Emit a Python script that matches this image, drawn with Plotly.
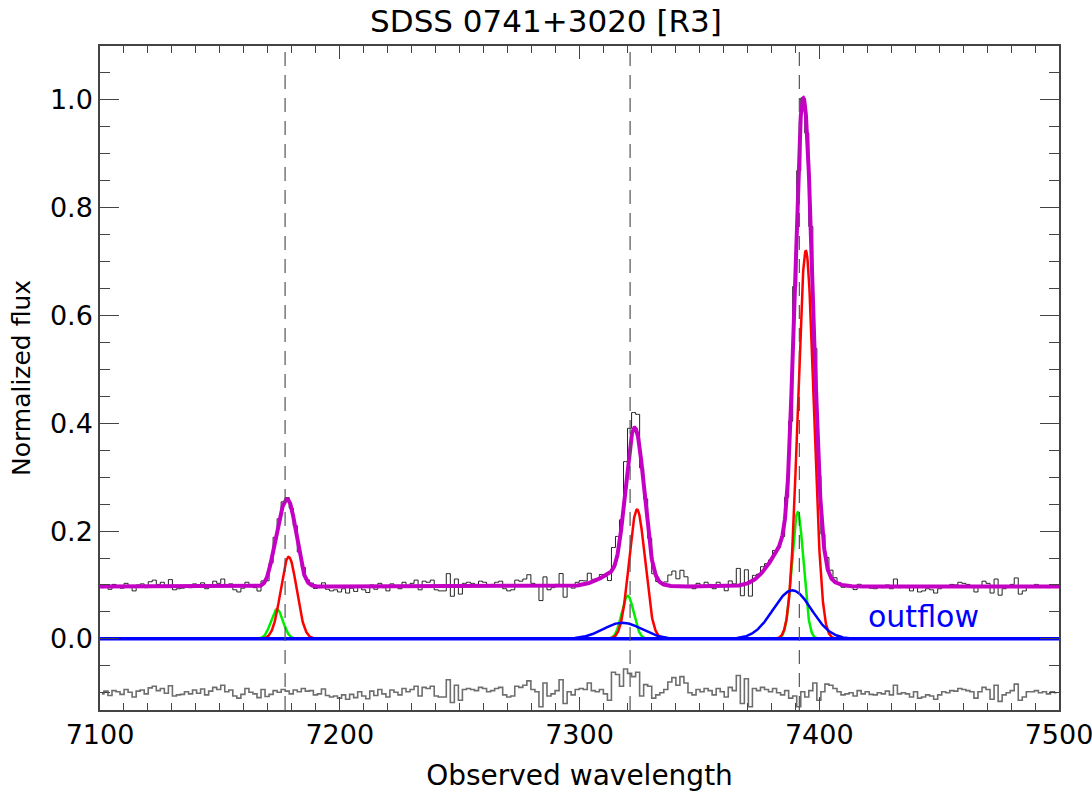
import numpy as np
import plotly.graph_objects as go

# ---------------- data ----------------
title = "SDSS 0741+3020 [R3]"
x_ticks = [7100, 7200, 7300, 7400, 7500]
y_ticks = [0.0, 0.2, 0.4, 0.6, 0.8, 1.0]

# rest-frame line positions shown as dashed lines (observed Angstrom)
line_positions = [7177.2, 7321.1, 7391.7]

continuum = 0.097

# narrow (red) components: centre, amplitude, sigma
red_centres = [7178.7, 7324.0, 7394.4]
red_amps = [0.152, 0.24, 0.72]
red_sigma = [3.3, 3.3, 3.3]

# intermediate (green) components
green_centres = [7173.8, 7320.1, 7391.0]
green_amps = [0.055, 0.08, 0.235]
green_sigma = [2.5, 2.5, 2.4]

# outflow (blue) components
blue_centres = [7317.9, 7388.75]
blue_amps = [0.03, 0.09]
blue_sigma = [8.0, 8.0]

# spectral pixel grid
wave_start = 7100.8
wave_step = 1.68

# residuals (data - model), in units of 1e-3, read bin by bin
resid_milli = [
    -2, 3, -5, 4, 2, -3, 6, 1, -8, 3, 5, -2, 9, 12, 4, 8, -1, 13, -6, -4, -3,
    2, -2, 5, -1, 7, -4, 3, 10, 6, 14, 2, 5, -6, -10, -3, 8, 1, -2, -9, 6, -7,
    -3, 4, 1, 6, 3, -2, 5, 2, 8, 3, 4, -4,
    -2, 7, -5, -8, -6, -10, -4, -12, -3, -9, 2, -6, -11, 3, -5, 6, -2, -8, 5,
    1, -4, 8, 2, 6, 12, -6,
    10, 8, 12, -6, -8, -8, 24, -18, 14, -14, 6, 8, 6, 4, 10, 8, 2, 4, 8, 10,
    -4, -8, -6, 12, 10, 14, 22, 6, 2, -26, 18, -6, -2, 4, 24, -20, 2, -4, 6,
    8, 6, 18, 4, 2, 6, -2, -14, 38, 34, 12, 44, 36, 30, 38, -6, 15, 12, -10,
    -4, 0, 6, 20, 28, 14, 30, 18, 0, -4, 6, 2, 8, 4, -4, 8, 2, -8, 10, 4, 32,
    -20, 26, -26, 8, 4, 10, 6, 2, 8, 0, -4, 4, -10, -6, -26, 2, -8, 4, 18,
    -14, 2, 16, 14, 8, 2, -4, -2, 0, -6, 4, -2, 2, -3, -4, 0, -2, 3, -4, 14,
    -2,
    0, -2, -8, 2, -10, -8, -4, -6, -12, -4, 2, 0, 4, 3, 8, 6, 4, 2, -10, 2,
    10, 6, -12, 14, -16, -4, 0, 4, 16, -14, -8, 2, 2, 4, 0, 2, -2, 2, 0,
]
resid_offset = -0.10

outflow_label = "outflow"
outflow_label_pos = (7443.5, 0.042)


# ---------------- model ----------------
def gauss_sum(x, centres, amps, sigmas):
    y = np.zeros_like(x, dtype=float)
    for c, a, s in zip(centres, amps, sigmas):
        y += a * np.exp(-0.5 * ((x - c) / s) ** 2)
    return y


xf = np.linspace(7100, 7500, 3201)
red_y = gauss_sum(xf, red_centres, red_amps, red_sigma)
green_y = gauss_sum(xf, green_centres, green_amps, green_sigma)
blue_y = gauss_sum(xf, blue_centres, blue_amps, blue_sigma)
total_y = continuum + red_y + green_y + blue_y

resid = np.array(resid_milli, dtype=float) / 1000.0
wave = wave_start + wave_step * np.arange(len(resid))
model_bins = (continuum
              + gauss_sum(wave, red_centres, red_amps, red_sigma)
              + gauss_sum(wave, green_centres, green_amps, green_sigma)
              + gauss_sum(wave, blue_centres, blue_amps, blue_sigma))
data = model_bins + resid

fig = go.Figure()

fig.add_trace(go.Scatter(x=wave, y=data, mode="lines", line_shape="hvh",
                         line=dict(color="#222222", width=1), hoverinfo="skip"))
fig.add_trace(go.Scatter(x=wave, y=resid + resid_offset, mode="lines", line_shape="hvh",
                         line=dict(color="#6e6e6e", width=1.6), hoverinfo="skip"))

def masked(y, thr=2e-4):
    yy = y.copy()
    yy[yy < thr] = np.nan
    return yy

fig.add_trace(go.Scatter(x=xf, y=masked(green_y), mode="lines",
                         line=dict(color="#00ee00", width=2.5), connectgaps=False))
fig.add_trace(go.Scatter(x=xf, y=masked(red_y), mode="lines",
                         line=dict(color="#ff0000", width=2.5), connectgaps=False))
fig.add_trace(go.Scatter(x=[7100, 7500], y=[0, 0], mode="lines",
                         line=dict(color="#0000ff", width=3.5)))
fig.add_trace(go.Scatter(x=xf, y=blue_y, mode="lines",
                         line=dict(color="#0000ff", width=2.5)))
fig.add_trace(go.Scatter(x=xf, y=total_y, mode="lines",
                         line=dict(color="#c400c4", width=4)))

for lp in line_positions:
    fig.add_shape(type="line", xref="x", yref="paper", x0=lp, x1=lp, y0=0, y1=1,
                  line=dict(color="#555555", width=1.2, dash="14px,9px"), layer="above")

fig.add_annotation(x=outflow_label_pos[0], y=outflow_label_pos[1], text=outflow_label,
                   showarrow=False, font=dict(color="#0000ff", size=30, family="DejaVu Sans"))

axis_common = dict(showline=True, linecolor="#444444", linewidth=1.5, mirror="allticks",
                   ticks="inside", tickcolor="#444444", tickwidth=1.2,
                   showgrid=False, zeroline=False, ticklabeloverflow="allow",
                   automargin=False,
                   tickfont=dict(size=27, family="DejaVu Sans", color="black"))

fig.update_layout(
    width=1092, height=796,
    margin=dict(l=100, r=33, t=46, b=86, autoexpand=False),
    paper_bgcolor="white", plot_bgcolor="white",
    showlegend=False,
    title=dict(text=title, x=0.5, xanchor="center", y=0.974, yanchor="middle",
               font=dict(size=31, family="DejaVu Sans", color="black")),
    xaxis=dict(range=[7100, 7500], tickvals=x_ticks, ticklen=13,
               minor=dict(dtick=10, tick0=7100, ticklen=7, ticks="inside", tickcolor="#444444"),
               title=dict(text="Observed wavelength", standoff=16,
                          font=dict(size=28, family="DejaVu Sans", color="black")),
               **axis_common),
    yaxis=dict(range=[-0.132, 1.10], tickvals=y_ticks, tickformat=".1f", ticklen=19,
               minor=dict(dtick=0.05, tick0=0, ticklen=10, ticks="inside", tickcolor="#444444"),
               title=dict(text="Normalized flux", standoff=12,
                          font=dict(size=25, family="DejaVu Sans", color="black")),
               **axis_common),
)

fig.write_html("out.html")
